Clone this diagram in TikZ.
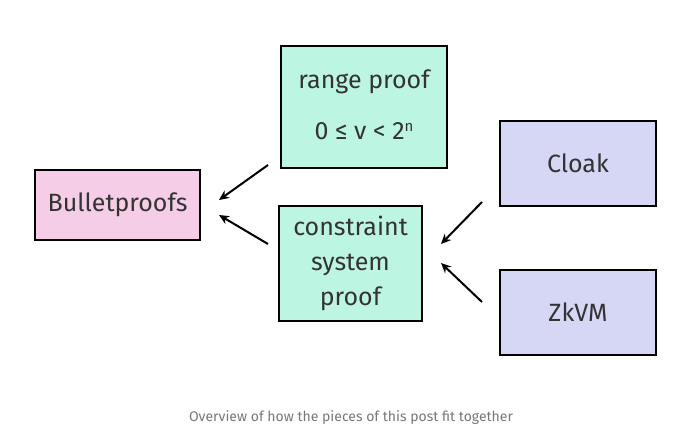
\documentclass[tikz,border=0pt]{standalone}
\usepackage{fontspec}
\setmainfont{Fira Sans}
\usetikzlibrary{arrows.meta}
\definecolor{mint}{HTML}{BDF5E3}
\definecolor{pinkb}{HTML}{F5CDE6}
\definecolor{lav}{HTML}{D6D6F5}
\definecolor{txt}{HTML}{333333}
\definecolor{cap}{HTML}{777777}
\begin{document}
\begin{tikzpicture}[x=1pt,y=-1pt,
  lbl/.style={text=txt,font=\fontsize{25}{35}\selectfont,align=center},
  box/.style={lbl,draw=black,line width=2pt,inner sep=0pt},
  arr/.style={line width=2pt,-{Stealth[length=10pt,width=9pt]}}]
\useasboundingbox (0,0) rectangle (694,445);
\node[box,fill=mint,minimum width=166pt,minimum height=122pt] (rp) at (364,107) {};
\node[lbl] (rpt) at (364,82) {range proof};
\node[lbl] (rpm) at (364,131) {0 ≤ v < 2\raisebox{0.6ex}{\fontsize{15}{17}\selectfont n}};
\node[box,fill=pinkb,minimum width=165pt,minimum height=70pt] (bp) at (117.5,205) {Bulletproofs};
\node[box,fill=mint,minimum width=143pt,minimum height=115pt] (cs) at (350.5,263.5) {constraint\\system\\proof};
\node[box,fill=lav,minimum width=156pt,minimum height=85pt] (cl) at (578,163.5) {Cloak};
\node[box,fill=lav,minimum width=156pt,minimum height=85pt] (zk) at (578,312.5) {ZkVM};
\coordinate (a1s) at (268,165); \coordinate (a1e) at (219,200);
\coordinate (a2s) at (268,244); \coordinate (a2e) at (219,215);
\coordinate (a3s) at (482,202); \coordinate (a3e) at (441,244);
\coordinate (a4s) at (482,302); \coordinate (a4e) at (441,263);
\draw[arr] (a1s) -- (a1e);
\draw[arr] (a2s) -- (a2e);
\draw[arr] (a3s) -- (a3e);
\draw[arr] (a4s) -- (a4e);
\node[text=cap,font=\fontsize{14}{16}\selectfont] (caption) at (351,418) {Overview of how the pieces of this post fit together};
\end{tikzpicture}
\end{document}
